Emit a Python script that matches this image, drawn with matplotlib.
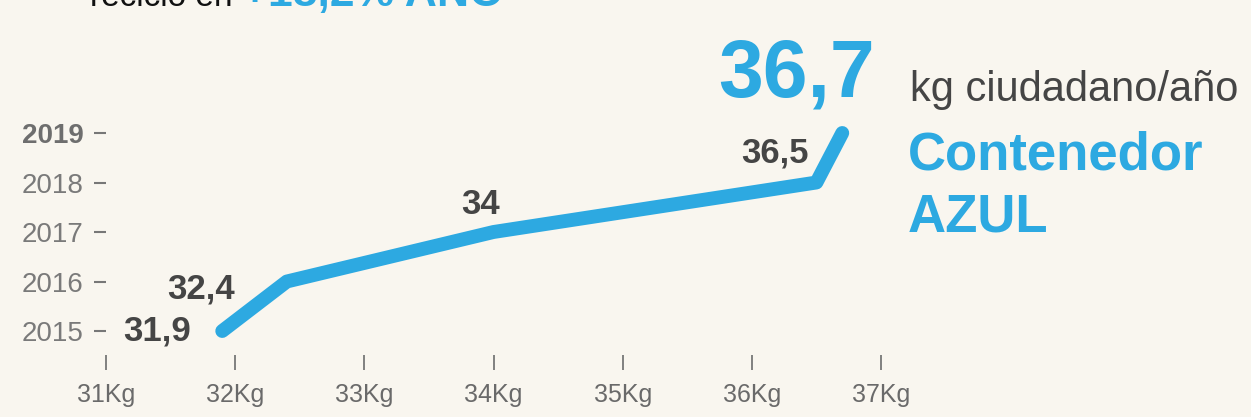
import matplotlib
matplotlib.use("Agg")
import matplotlib.pyplot as plt
from matplotlib import font_manager

years = [2015, 2016, 2017, 2018, 2019]
kg_values = [31.9, 32.4, 34.0, 36.5, 36.7]
value_labels = ["31,9", "32,4", "34", "36,5", "36,7"]
x_ticks = [31, 32, 33, 34, 35, 36, 37]
x_tick_labels = ["31Kg", "32Kg", "33Kg", "34Kg", "35Kg", "36Kg", "37Kg"]
y_tick_labels = ["2015", "2016", "2017", "2018", "2019"]

BG = "#f9f6ef"
BLUE = "#2da9e1"
DARK = "#454545"
GRAY = "#7a7a7a"

names = {f.name for f in font_manager.fontManager.ttflist}
NARROW = "Liberation Sans Narrow" if "Liberation Sans Narrow" in names else "Liberation Sans"
FAM = [NARROW, "DejaVu Sans"]
plt.rcParams["font.family"] = FAM

W, H = 1251, 417
fig = plt.figure(figsize=(W / 100, H / 100), dpi=100, facecolor=BG)

x_left_px, x_right_px = 106, 881
y2015_px, per_year = 331, 49.5
y_bottom = 2015 - (355 - y2015_px) / per_year
y_top = 2019.4
bottom_px = 355
top_px = y2015_px - (y_top - 2015) * per_year
ax = fig.add_axes([x_left_px / W, 1 - bottom_px / H,
                   (x_right_px - x_left_px) / W, (bottom_px - top_px) / H])
ax.set_facecolor("none")
ax.set_xlim(31, 37)
ax.set_ylim(y_bottom, y_top)
for s in ax.spines.values():
    s.set_visible(False)

ax.plot(kg_values, years, color=BLUE, lw=10, solid_capstyle="round",
        solid_joinstyle="round", zorder=3)

ax.set_xticks(x_ticks)
ax.set_xticklabels(x_tick_labels)
ax.set_yticks(years)
ax.set_yticklabels(y_tick_labels)
ax.tick_params(axis="x", direction="out", length=11, width=1.3, color="#777777",
               pad=9, labelsize=18, labelcolor="#6a6a6a")
ax.tick_params(axis="y", direction="out", length=9, width=1.5, color="#777777",
               pad=7, labelsize=20, labelcolor=GRAY)
for lab in ax.get_yticklabels():
    if lab.get_text() == "2019":
        lab.set_fontweight("bold")
        lab.set_color("#6e6e6e")

# value labels
offsets = [(-65, 0), (-86, -7), (-13, 28), (-41, 30)]
for (x, y, t, (dx, dy)) in zip(kg_values[:4], years[:4], value_labels[:4], offsets):
    ax.annotate(t, (x, y), xytext=(dx, dy), textcoords="offset pixels",
                ha="center", va="center", fontsize=25, fontweight="bold",
                color=DARK, family=FAM)

ax.annotate(value_labels[4], (kg_values[4], years[4]), xytext=(-46, 58),
            textcoords="offset pixels", ha="center", va="center",
            fontsize=58, fontweight="bold", color=BLUE, family=FAM)

fig.text(910 / W, 1 - 90 / H, "kg ciudadano/año", ha="left", va="center",
         fontsize=30, color=DARK, family=FAM)
fig.text(908 / W, 1 - 155 / H, "Contenedor", ha="left", va="center",
         fontsize=38, fontweight="bold", color=BLUE, family=FAM)
fig.text(908 / W, 1 - 217 / H, "AZUL", ha="left", va="center",
         fontsize=38, fontweight="bold", color=BLUE, family=FAM)

# title at the top, cut off by the figure edge as in the reference
fig.text(90 / W, 1 - 6 / H, "reciclo en", ha="left", va="baseline",
         fontsize=24, color="#111111", family=FAM)
fig.text(242 / W, 1 - 6 / H, "+18,2% AÑO", ha="left", va="baseline",
         fontsize=32, fontweight="bold", color=BLUE, family=FAM)

fig.savefig("out.png", dpi=100, facecolor=BG)
